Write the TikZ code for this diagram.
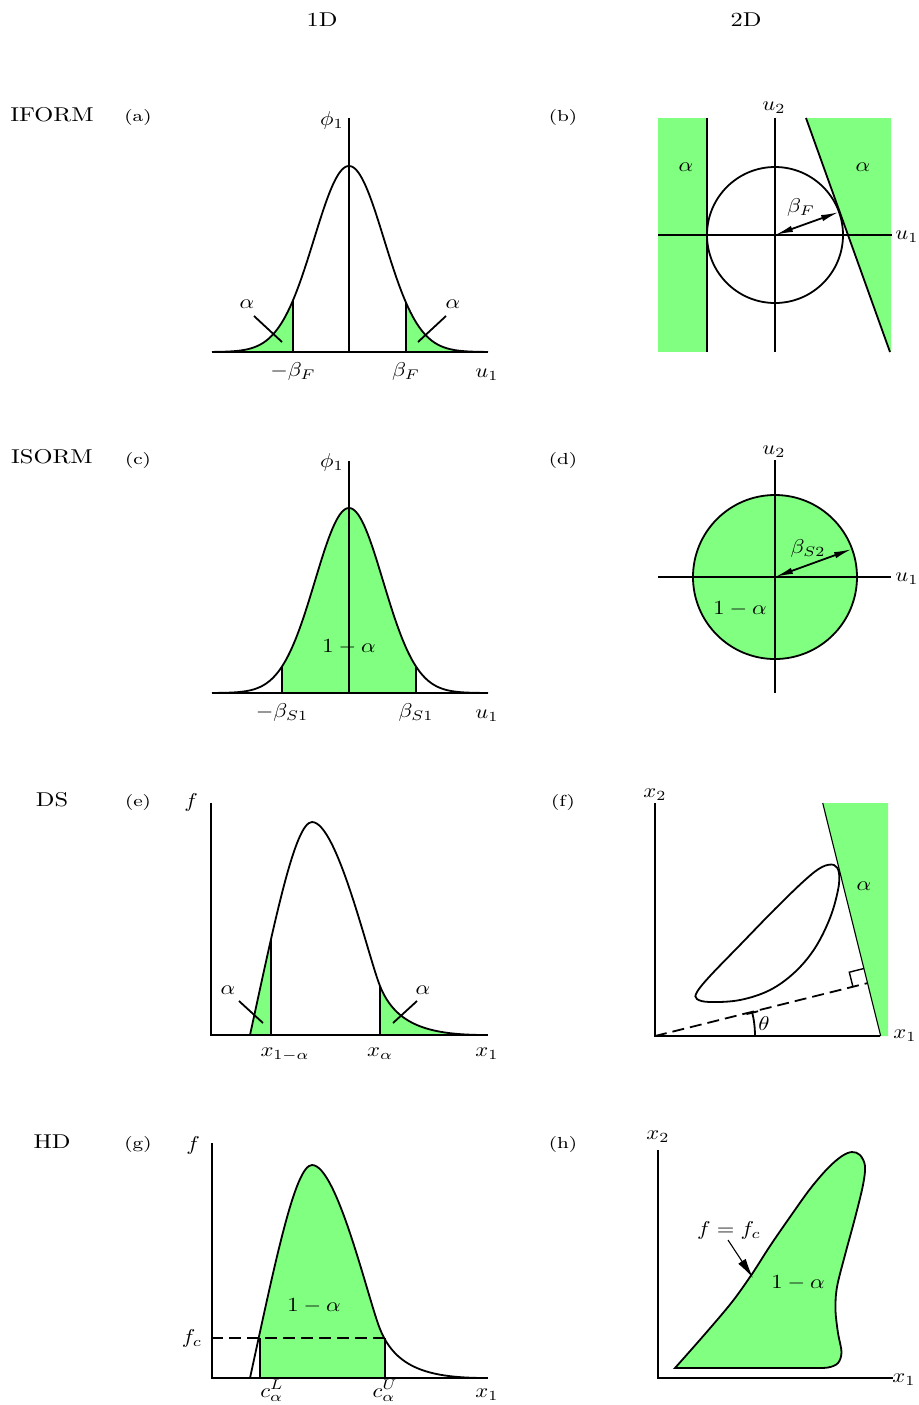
\documentclass[tikz,border=0pt]{standalone}
\usetikzlibrary{arrows.meta}
\definecolor{fillgreen}{RGB}{128,255,128}
\begin{document}
\begin{tikzpicture}[x=0.5pt,y=-0.5pt,line width=0.9pt,
  lbl/.style={inner sep=0pt,xscale=1.13,transform shape},
  tag/.style={inner sep=0pt,font=\footnotesize,xscale=1.25,transform shape},
  rowlbl/.style={inner sep=0pt,font=\normalsize,xscale=1.22,transform shape},
  thinline/.style={line width=0.55pt},
  dbl/.style={{Latex[length=9pt,width=3.2pt]}-{Latex[length=9pt,width=3.2pt]}},
  pointer/.style={thinline,-{Latex[length=10pt,width=4.5pt]}},
  dsh/.style={dash pattern=on 6pt off 3pt}]
\useasboundingbox (0,0) rectangle (918,1405);

% headers
\node[rowlbl] (h1) at (322,20) {1D};
\node[rowlbl] (h2) at (746,20) {2D};
\node[rowlbl] (r1) at (52,115) {IFORM};
\node[rowlbl] (r2) at (52,457) {ISORM};
\node[rowlbl] (r3) at (52,800) {DS};
\node[rowlbl] (r4) at (52,1142) {HD};
\node[tag] (ta) at (138,117) {(a)};
\node[tag] (tb) at (563,117) {(b)};
\node[tag] (tc) at (138,460) {(c)};
\node[tag] (td) at (563,460) {(d)};
\node[tag] (te) at (138,802) {(e)};
\node[tag] (tf) at (563,802) {(f)};
\node[tag] (tg) at (138,1144) {(g)};
\node[tag] (th) at (563,1144) {(h)};

% ---------------- (a)
\fill[fillgreen] (212,352) -- plot[domain=212:293,samples=40] (\x,{352-186*exp(-((\x-349)/35)^2/2)}) -- (293,352) -- cycle;
\fill[fillgreen] (406,352) -- plot[domain=406:488,samples=40] (\x,{352-186*exp(-((\x-349)/35)^2/2)}) -- (488,352) -- cycle;
\draw plot[domain=212:488,samples=150] (\x,{352-186*exp(-((\x-349)/35)^2/2)});
\draw (293,352) -- (293,{352-186*exp(-((293-349)/35)^2/2)});
\draw (406,352) -- (406,{352-186*exp(-((406-349)/35)^2/2)});
\draw (212,352) -- (488,352);
\draw (349,118) -- (349,352);
\node[lbl] (aphi) at (332,120) {$\phi_1$};
\node[lbl] (amb) at (293,371) {$-\beta_F$};
\node[lbl] (ab) at (406,371) {$\beta_F$};
\node[lbl] (au) at (487,375) {$u_1$};
\node[lbl] (aal1) at (247,304) {$\alpha$};
\node[lbl] (aal2) at (453,304) {$\alpha$};
\coordinate (aL1) at (254,316); \coordinate (aL2) at (282,342);
\coordinate (aR1) at (446,316); \coordinate (aR2) at (418,342);
\draw (aL1) -- (aL2);
\draw (aR1) -- (aR2);

% ---------------- (b)
\fill[fillgreen] (658,118) rectangle (707,352);
\fill[fillgreen] (806,118) -- (891,118) -- (891,352) -- (890,352) -- cycle;
\draw (775,235) circle[radius=34pt];
\draw (658,235) -- (892,235);
\draw (775,118) -- (775,352);
\draw (707,118) -- (707,352);
\draw (806,118) -- (890,352);
\coordinate (bo) at (775,235);
\coordinate (bt) at (839,212);
\draw[dbl] (bo) -- (bt);
\node[lbl] (bu2) at (774,108) {$u_2$};
\node[lbl] (bu1) at (907,237) {$u_1$};
\node[lbl] (bal1) at (686,167) {$\alpha$};
\node[lbl] (bal2) at (863,167) {$\alpha$};
\node[lbl] (bbeta) at (801,207) {$\beta_F$};

% ---------------- (c)
\fill[fillgreen] (282,693) -- plot[domain=282:416,samples=60] (\x,{693-185*exp(-((\x-349)/34)^2/2)}) -- (416,693) -- cycle;
\draw plot[domain=212:488,samples=150] (\x,{693-185*exp(-((\x-349)/34)^2/2)});
\draw[thinline] (282,693) -- (282,{693-185*exp(-((282-349)/34)^2/2)});
\draw[thinline] (416,693) -- (416,{693-185*exp(-((416-349)/34)^2/2)});
\draw (212,693) -- (488,693);
\draw (349,461) -- (349,693);
\node[lbl] (cphi) at (332,462) {$\phi_1$};
\node[lbl] (cmb) at (282,712) {$-\beta_{S1}$};
\node[lbl] (cb) at (416,712) {$\beta_{S1}$};
\node[lbl] (cu) at (487,716) {$u_1$};
\node[lbl] (cal) at (349,647) {$1-\alpha$};

% ---------------- (d)
\fill[fillgreen] (775,577) circle[radius=41pt];
\draw (775,577) circle[radius=41pt];
\draw (658,577) -- (891,577);
\draw (775,460) -- (775,693);
\coordinate (do) at (775,577);
\coordinate (dt) at (852,549);
\draw[dbl] (do) -- (dt);
\node[lbl] (du2) at (774,452) {$u_2$};
\node[lbl] (du1) at (907,579) {$u_1$};
\node[lbl] (dbeta) at (808,548) {$\beta_{S2}$};
\node[lbl] (dal) at (740,609) {$1-\alpha$};

% ---------------- (e)
\begin{scope}
\clip (250,790) rectangle (271,1040);
\fill[fillgreen] (250,1035) .. controls (275,920) and (295,822) .. (312,822) .. controls (337,822) and (368,956) .. (380,986) .. controls (396,1026) and (430,1035) .. (487,1035) -- cycle;
\end{scope}
\begin{scope}
\clip (380,790) rectangle (490,1040);
\fill[fillgreen] (250,1035) .. controls (275,920) and (295,822) .. (312,822) .. controls (337,822) and (368,956) .. (380,986) .. controls (396,1026) and (430,1035) .. (487,1035) -- cycle;
\end{scope}
\draw (250,1035) .. controls (275,920) and (295,822) .. (312,822) .. controls (337,822) and (368,956) .. (380,986) .. controls (396,1026) and (430,1035) .. (487,1035);
\draw (271,1035) -- (271,940);
\draw (380,1035) -- (380,986);
\draw (211,803) -- (211,1035) -- (488,1035);
\node[lbl] (ef) at (191,802) {$f$};
\node[lbl,anchor=base] (ex1a) at (285,1056) {$x_{1-\alpha}$};
\node[lbl,anchor=base] (exa) at (380,1056) {$x_\alpha$};
\node[lbl,anchor=base] (ex1) at (487,1056) {$x_1$};
\node[lbl] (eal1) at (228,990) {$\alpha$};
\node[lbl] (eal2) at (423,990) {$\alpha$};
\coordinate (eL1) at (239,1001); \coordinate (eL2) at (263,1023);
\coordinate (eR1) at (417,1001); \coordinate (eR2) at (393,1023);
\draw (eL1) -- (eL2);
\draw (eR1) -- (eR2);

% ---------------- (f)
\fill[fillgreen] (822.7,803) -- (888,803) -- (888,1036) -- (880.7,1036) -- cycle;
\draw[thinline] (822.7,803) -- (880.7,1036);
\draw (655,803) -- (655,1036) -- (880,1036);
\coordinate (fo) at (655,1036);
\coordinate (ff) at (867.5,983.1);
\draw[dsh] (fo) -- (ff);
\draw[line width=0.7pt] (852.9,986.7) -- (849.3,972.2) -- (863.9,968.5);
\draw plot[smooth cycle,tension=0.6] coordinates {(834,865) (839,873) (838,890) (830,918) (815,948) (795,972) (770,990) (740,1000) (710,1002) (697,999) (697,992) (710,976) (740,945) (775,909) (805,880) (822,867)};
\draw[-{Bar[width=6pt]}] (755,1036) arc[start angle=0,end angle=14,radius=50pt];
\node[lbl] (fx2) at (655,795) {$x_2$};
\node[lbl] (fx1) at (905,1036) {$x_1$};
\node[lbl] (fal) at (864,886) {$\alpha$};
\node[lbl] (fth) at (764,1024) {$\theta$};

% ---------------- (g)
\begin{scope}[shift={(0,343)}]
\begin{scope}
\clip (260,790) rectangle (385,1040);
\fill[fillgreen] (250,1035) .. controls (275,920) and (295,822) .. (312,822) .. controls (337,822) and (368,956) .. (380,986) .. controls (396,1026) and (430,1035) .. (487,1035) -- cycle;
\end{scope}
\draw (250,1035) .. controls (275,920) and (295,822) .. (312,822) .. controls (337,822) and (368,956) .. (380,986) .. controls (396,1026) and (430,1035) .. (487,1035);
\end{scope}
\draw (260,1378) -- (260,1338);
\draw (385,1378) -- (385,1338);
\draw[dsh] (211,1338) -- (385,1338);
\draw (212,1143) -- (212,1378) -- (488,1378);
\node[lbl] (gf) at (193,1145) {$f$};
\node[lbl] (gfc) at (192,1338) {$f_c$};
\node[lbl,anchor=base] (gcl) at (272,1397) {$c_\alpha^L$};
\node[lbl,anchor=base] (gcu) at (385,1397) {$c_\alpha^U$};
\node[lbl,anchor=base] (gx1) at (487,1397) {$x_1$};
\node[lbl] (gal) at (314,1306) {$1-\alpha$};

% ---------------- (h)
\draw[thinline] (658,1150) -- (658,1378) -- (893,1378);
\filldraw[fill=fillgreen] (675,1368) -- (812,1368) plot[smooth,tension=0.55] coordinates {(812,1368) (828,1367.5) (838,1363) (841.5,1352) (838,1333) (835.5,1310) (837,1287) (845,1255) (855,1218) (863,1185) (865,1166) (860,1155) (852,1152) (842,1156) (828,1168) (810,1189) (790,1217) (770,1246) (752,1274) (732,1302) (705,1334) (675,1368)} -- cycle;
\node[lbl] (hx2) at (658,1137) {$x_2$};
\node[lbl] (hx1) at (904,1380) {$x_1$};
\node[lbl] (hf) at (729,1230) {$f=f_c$};
\coordinate (hp) at (753,1278);
\draw[pointer] (728,1240) -- (hp);
\node[lbl] (hal) at (798,1283) {$1-\alpha$};
\end{tikzpicture}
\end{document}
